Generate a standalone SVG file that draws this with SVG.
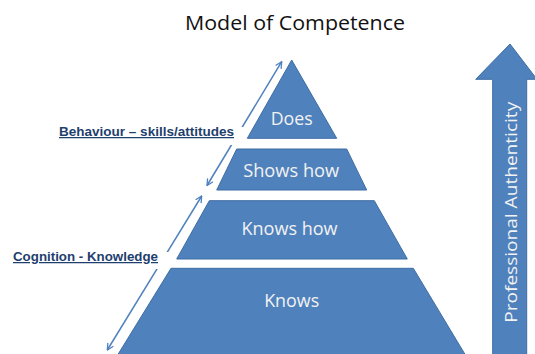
<svg xmlns="http://www.w3.org/2000/svg" width="535" height="354" viewBox="0 0 535 354">
  <style>
    .tier { fill: #4f81bd; stroke: #3e6da3; stroke-width: 1; }
    .tier-label { font-family: "Open Sans", "Liberation Sans", sans-serif; font-size: 18.5px; fill: #f2f2f2; text-anchor: middle; }
    .title { font-family: "Open Sans", "Liberation Sans", sans-serif; font-size: 20.5px; fill: #111; }
    .side-label { font-family: "Liberation Sans", "DejaVu Sans", sans-serif; font-size: 12.5px; font-weight: bold; fill: #1f3f6e; text-decoration: underline; }
    .span { fill: none; stroke: #4f81bd; stroke-width: 1.5; marker-start: url(#head); marker-end: url(#head); }
    .mask { fill: #ffffff; }
    .axis-label { font-family: "Open Sans", "Liberation Sans", sans-serif; font-size: 17px; fill: #f2f2f2; text-anchor: middle; }
  </style>
  <defs>
    <marker id="head" viewBox="0 0 10 10" refX="9" refY="5" markerWidth="8" markerHeight="8" orient="auto-start-reverse" markerUnits="userSpaceOnUse">
      <path d="M1,1 L9,5 L1,9" fill="none" stroke="#4f81bd" stroke-width="1.6"/>
    </marker>
  </defs>

  <rect width="535" height="354" fill="#ffffff"/>

  <text class="title" x="185" y="30" textLength="220" lengthAdjust="spacingAndGlyphs">Model of Competence</text>

  <!-- Pyramid tiers -->
  <g id="does">
    <polygon class="tier" points="291.7,60 336.7,138.3 247.3,138.3"/>
    <text class="tier-label" x="291.7" y="125" textLength="42" lengthAdjust="spacingAndGlyphs">Does</text>
  </g>
  <g id="shows-how">
    <polygon class="tier" points="236.7,149 346.7,149 366.7,190 216.7,190"/>
    <text class="tier-label" x="291.2" y="177" textLength="96" lengthAdjust="spacingAndGlyphs">Shows how</text>
  </g>
  <g id="knows-how">
    <polygon class="tier" points="209.3,200.7 374.3,200.7 407.3,259 176.7,259"/>
    <text class="tier-label" x="289.5" y="235" textLength="96" lengthAdjust="spacingAndGlyphs">Knows how</text>
  </g>
  <g id="knows">
    <polygon class="tier" points="171,268.3 413.3,268.3 466,356 117,356"/>
    <text class="tier-label" x="291.7" y="307.3" textLength="55" lengthAdjust="spacingAndGlyphs">Knows</text>
  </g>

  <!-- Professional authenticity axis -->
  <g id="authenticity">
    <polygon class="tier" points="510,44 537,79.3 526.7,79.3 526.7,356 492.7,356 492.7,79.3 475.7,79.3"/>
    <text class="axis-label" transform="translate(517.3,212.3) rotate(-90)" x="0" y="0" textLength="221" lengthAdjust="spacingAndGlyphs">Professional Authenticity</text>
  </g>

  <!-- Span connectors -->
  <g id="connectors">
    <line class="span" x1="207" y1="185.5" x2="281.7" y2="61.7"/>
    <line class="span" x1="107.3" y1="350" x2="201.7" y2="196"/>
  </g>

  <!-- Side labels -->
  <g id="behaviour">
    <rect class="mask" x="55" y="127" width="188" height="18"/>
    <text class="side-label" x="59" y="136" textLength="175" lengthAdjust="spacingAndGlyphs">Behaviour – skills/attitudes</text>
  </g>
  <g id="cognition">
    <rect class="mask" x="8" y="252" width="160" height="17"/>
    <text class="side-label" x="13" y="261" textLength="145" lengthAdjust="spacingAndGlyphs">Cognition - Knowledge</text>
  </g>
</svg>
